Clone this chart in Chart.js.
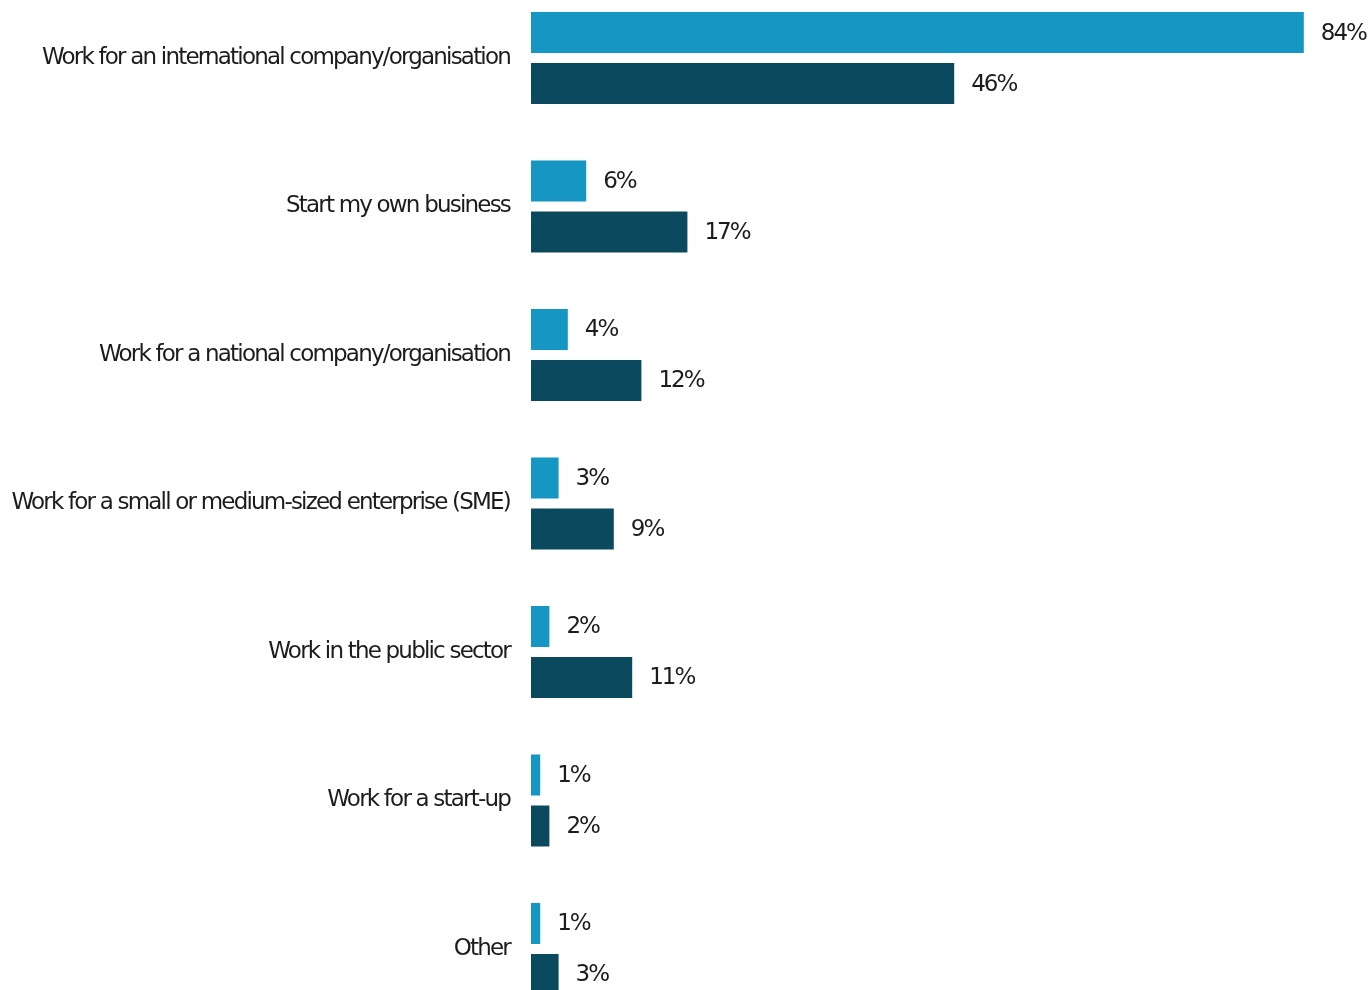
<!DOCTYPE html>
<html>
<head>
<meta charset="utf-8">
<script src="https://cdn.jsdelivr.net/npm/chart.js@4"></script>
<style>
  html, body { margin: 0; padding: 0; background: #ffffff; overflow: hidden; }
  body { width: 1371px; height: 990px; position: relative; }
  #chart { position: absolute; left: 0; top: -51px; }
</style>
</head>
<body>
<canvas id="chart" width="1371" height="1109"></canvas>
<script>
const categories = [
  'Work for an international company/organisation',
  'Start my own business',
  'Work for a national company/organisation',
  'Work for a small or medium-sized enterprise (SME)',
  'Work in the public sector',
  'Work for a start-up',
  'Other'
];
const seriesA = [84, 6, 4, 3, 2, 1, 1];
const seriesB = [46, 17, 12, 9, 11, 2, 3];

const FONT = 'DejaVu Sans';
const TRACK = '-1.8px';

// tight tracking for all canvas text (reset whenever the canvas is resized)
const tracking = {
  id: 'tracking',
  beforeLayout(chart) { chart.ctx.letterSpacing = TRACK; },
  beforeDraw(chart) { chart.ctx.letterSpacing = TRACK; }
};

// percentage labels just past the end of each bar
const valueLabels = {
  id: 'valueLabels',
  afterDatasetsDraw(chart) {
    const ctx = chart.ctx;
    ctx.save();
    ctx.letterSpacing = '-2px';
    ctx.font = '23px "' + FONT + '"';
    ctx.fillStyle = '#1c1c1c';
    ctx.textAlign = 'left';
    ctx.textBaseline = 'middle';
    chart.data.datasets.forEach((ds, i) => {
      chart.getDatasetMeta(i).data.forEach((bar, j) => {
        ctx.fillText(ds.data[j] + '%', bar.x + 17, bar.y + 1);
      });
    });
    ctx.restore();
  }
};

new Chart(document.getElementById('chart'), {
  type: 'bar',
  data: {
    labels: categories,
    datasets: [
      { data: seriesA, backgroundColor: '#1596c3', borderWidth: 0,
        categoryPercentage: 0.687, barPercentage: 0.804 },
      { data: seriesB, backgroundColor: '#0b4a5e', borderWidth: 0,
        categoryPercentage: 0.687, barPercentage: 0.804 }
    ]
  },
  options: {
    indexAxis: 'y',
    responsive: false,
    animation: false,
    devicePixelRatio: 1,
    layout: { padding: { top: 0, bottom: 0, left: 0, right: 12 } },
    plugins: { legend: { display: false }, tooltip: { enabled: false } },
    scales: {
      x: { display: false, min: 0, max: 90 },
      y: {
        grid: { display: false, drawTicks: false },
        border: { display: false },
        ticks: { color: '#1c1c1c', font: { family: FONT, size: 23 }, padding: 21 },
        afterFit(scale) { scale.width = 531; }
      }
    }
  },
  plugins: [tracking, valueLabels]
});
</script>
</body>
</html>
